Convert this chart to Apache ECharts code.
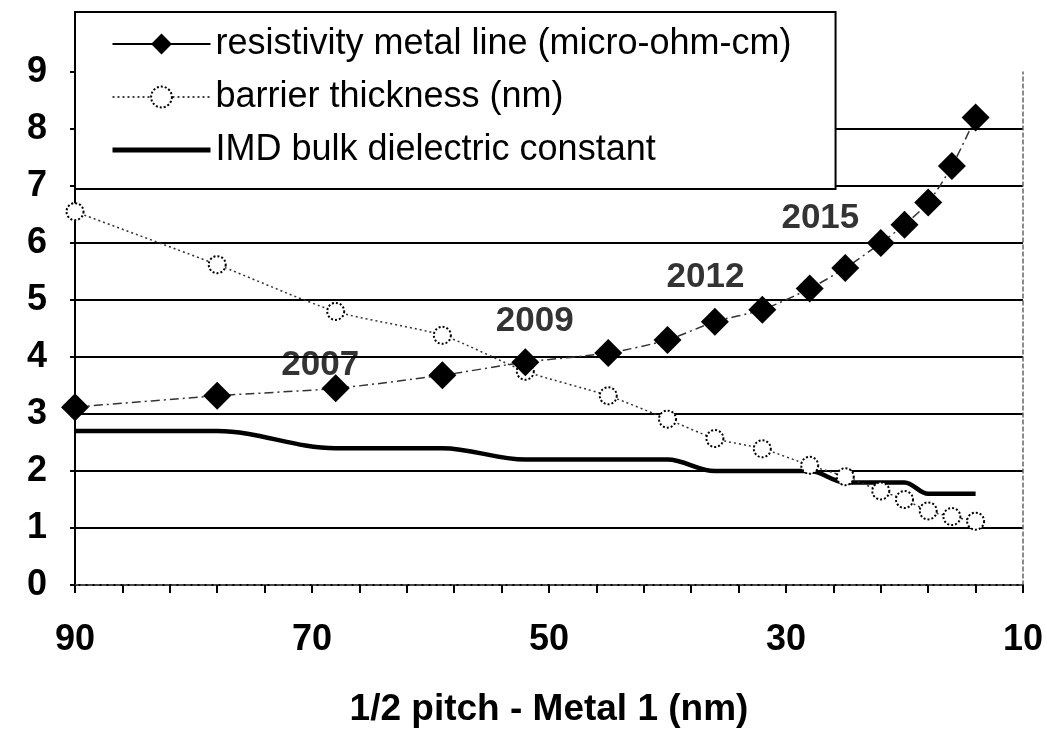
<!DOCTYPE html>
<html>
<head>
<meta charset="utf-8">
<script src="https://cdn.jsdelivr.net/npm/echarts@6/dist/echarts.min.js"></script>
<style>
html,body{margin:0;padding:0;background:#fff;}
#chart{width:1047px;height:740px;}
</style>
</head>
<body>
<div id="chart"></div>
<script>
// half pitch (nm)
const xPitch = [90, 78, 68, 59, 52, 45, 40, 36, 32, 28, 25, 22, 20, 18, 16, 14];
const resistivity = [3.12, 3.32, 3.45, 3.68, 3.91, 4.07, 4.3, 4.62, 4.83, 5.2, 5.56, 6.0, 6.32, 6.71, 7.35, 8.2];
const barrier = [6.55, 5.62, 4.8, 4.38, 3.75, 3.32, 2.91, 2.57, 2.39, 2.1, 1.9, 1.65, 1.5, 1.3, 1.2, 1.12];
const imd = [2.7, 2.7, 2.4, 2.4, 2.2, 2.2, 2.2, 2.0, 2.0, 2.0, 1.8, 1.8, 1.8, 1.6, 1.6, 1.6];
const yearLabels = ['2007', '2009', '2012', '2015'];
const yearX = [69.3, 51.2, 36.8, 27.1];
const yearY = [3.86, 4.63, 5.39, 6.44];
const seriesNames = ['resistivity metal line (micro-ohm-cm)', 'barrier thickness (nm)', 'IMD bulk dielectric constant'];
const xAxisTitle = '1/2 pitch - Metal 1 (nm)';

const pair = (xs, ys) => xs.map((x, i) => [x, ys[i]]);
const FONT = 'Liberation Sans, Arial, sans-serif';

const chart = echarts.init(document.getElementById('chart'), null, {renderer: 'canvas'});
const splitColors = [];
for (let i = 0; i <= 9; i++) splitColors.push(i === 9 ? 'rgba(0,0,0,0)' : '#000');

chart.setOption({
  animation: false,
  backgroundColor: '#fff',
  grid: {left: 75, right: 24, top: 72, bottom: 155, containLabel: false},
  legend: {
    orient: 'vertical',
    left: 75, top: 12,
    padding: [14, 44, 21, 35],
    itemGap: 17,
    itemWidth: 98,
    itemHeight: 26,
    backgroundColor: '#fff',
    borderColor: '#000',
    borderWidth: 2,
    textStyle: {fontFamily: FONT, fontSize: 36, color: '#000', lineHeight: 36},
    data: [
      {name: seriesNames[0], lineStyle: {type: 'solid', width: 2, color: '#000'}},
      {name: seriesNames[1], lineStyle: {type: [2, 3], width: 1.5, color: '#000'}, itemStyle: {borderType: 'dotted'}},
      {name: seriesNames[2], lineStyle: {type: 'solid', width: 5, color: '#000'},
       itemStyle: {color: 'rgba(0,0,0,0)', borderWidth: 0, opacity: 0}}
    ],
    z: 10
  },
  xAxis: [{
    type: 'value',
    inverse: true,
    min: 10, max: 90, interval: 4,
    position: 'bottom',
    axisLine: {show: true, onZero: false, lineStyle: {color: '#000', width: 2}},
    axisTick: {show: true, length: 8, inside: false, lineStyle: {color: '#000', width: 2}},
    splitLine: {show: false},
    axisLabel: {
      margin: 37,
      fontFamily: FONT, fontWeight: 'bold', fontSize: 36, color: '#000',
      formatter: v => ((v - 10) % 20 === 0 ? String(v) : '')
    },
    name: xAxisTitle,
    nameLocation: 'middle',
    nameGap: 106,
    nameTextStyle: {fontFamily: FONT, fontWeight: 'bold', fontSize: 37, color: '#000'}
  }, {
    type: 'value',
    inverse: true,
    min: 10, max: 90,
    position: 'top',
    axisLine: {show: true, lineStyle: {color: '#666', width: 1.5, type: [4, 3]}},
    axisTick: {show: false},
    axisLabel: {show: false},
    splitLine: {show: false}
  }],
  yAxis: [{
    type: 'value',
    min: 0, max: 9, interval: 1,
    axisLine: {show: true, lineStyle: {color: '#000', width: 2}},
    axisTick: {show: true, length: 5, lineStyle: {color: '#000', width: 2}},
    splitLine: {show: true, lineStyle: {color: splitColors, width: 2}},
    axisLabel: {margin: 28, fontFamily: FONT, fontWeight: 'bold', fontSize: 36, color: '#000'}
  }, {
    type: 'value',
    min: 0, max: 9, interval: 1,
    position: 'right',
    axisLine: {show: true, lineStyle: {color: '#666', width: 1.5, type: [4, 3]}},
    axisTick: {show: false},
    axisLabel: {show: false},
    splitLine: {show: false}
  }],
  series: [
    {
      name: seriesNames[0],
      type: 'line',
      data: pair(xPitch, resistivity),
      smooth: 0.25,
      symbol: 'diamond',
      symbolSize: 28,
      itemStyle: {color: '#000'},
      lineStyle: {color: '#333', width: 1.5, type: [9, 4, 2, 4]},
      z: 5
    },
    {
      name: seriesNames[1],
      type: 'line',
      data: pair(xPitch, barrier),
      smooth: 0.25,
      symbol: 'emptyCircle',
      symbolSize: 17,
      itemStyle: {color: '#000', borderWidth: 1.5, borderType: [2, 2]},
      lineStyle: {color: '#333', width: 1.5, type: [2, 3]},
      z: 4
    },
    {
      name: seriesNames[2],
      type: 'line',
      data: pair(xPitch, imd),
      smooth: 0.35,
      symbol: 'none',
      showSymbol: false,
      itemStyle: {color: '#000'},
      lineStyle: {color: '#000', width: 4.5},
      z: 3
    },
    {
      name: 'years',
      type: 'scatter',
      data: yearLabels.map((t, i) => ({name: t, value: [yearX[i], yearY[i]]})),
      symbolSize: 0,
      silent: true,
      label: {
        show: true, position: 'inside', formatter: p => p.name,
        fontFamily: FONT, fontWeight: 'bold', fontSize: 35, color: '#000'
      },
      z: 6
    }
  ]
});
</script>
</body>
</html>
